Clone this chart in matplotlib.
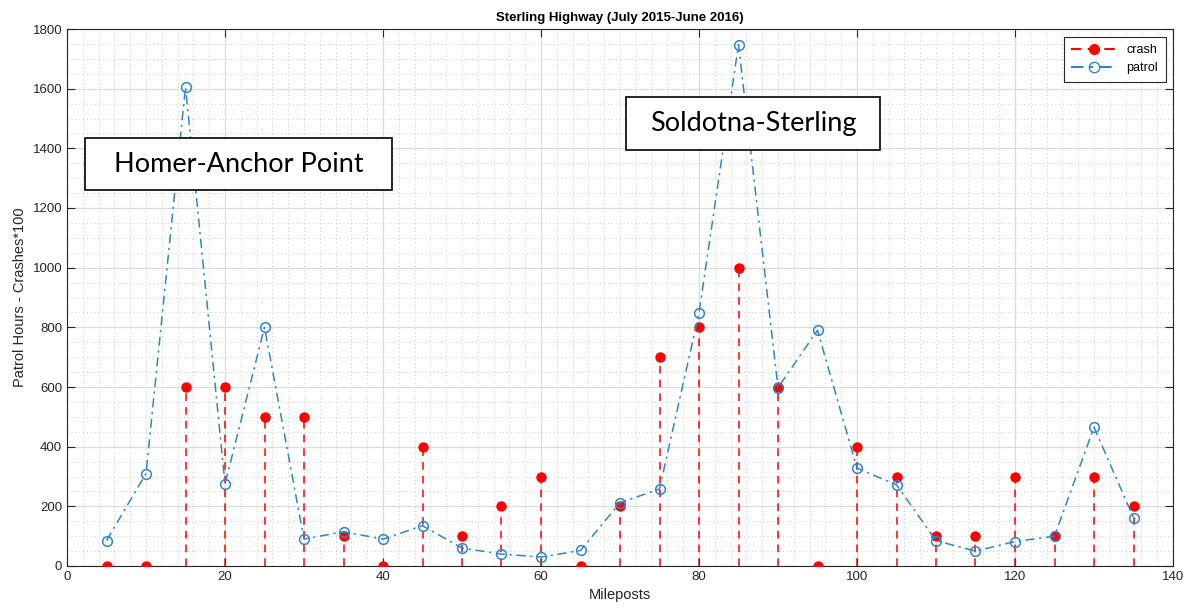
import numpy as np
import matplotlib
matplotlib.use('Agg')
import matplotlib.pyplot as plt
from matplotlib.patches import Rectangle
from matplotlib.ticker import MultipleLocator

# mileposts and values
mileposts = [5, 10, 15, 20, 25, 30, 35, 40, 45, 50, 55, 60, 65, 70,
             75, 80, 85, 90, 95, 100, 105, 110, 115, 120, 125, 130, 135]
crash = [0, 0, 600, 600, 500, 500, 100, 0, 400, 100, 200, 300, 0, 200,
         700, 800, 1000, 600, 0, 400, 300, 100, 100, 300, 100, 300, 200]
patrol = [85, 310, 1605, 275, 800, 90, 115, 90, 135, 60, 40, 30, 52, 212,
          258, 848, 1748, 598, 790, 328, 272, 85, 50, 82, 100, 465, 162]

plt.rcParams['font.family'] = ['Liberation Sans', 'DejaVu Sans']

fig = plt.figure(figsize=(11.87, 6.10), dpi=100)
ax = fig.add_axes([67/1187, 44/610, (1173-67)/1187, (566-29)/610])

red = '#ff0000'
blue = '#2f86cc'

ax.vlines(mileposts, 0, crash, colors=red, linestyles=(0, (5, 4)), linewidth=1.1, zorder=3)
ax.plot(mileposts, crash, 'o', color=red, markersize=6.5, zorder=4)
ax.plot(mileposts, patrol, linestyle=(0, (6, 3, 1.5, 3)), color=blue, linewidth=1.1,
        marker='o', markerfacecolor='none', markeredgecolor=blue, markersize=7,
        markeredgewidth=1.1, zorder=5)

# legend proxies
h1, = ax.plot([], [], linestyle=(0, (5, 3)), color=red, marker='o', markersize=7, label='crash')
h2, = ax.plot([], [], linestyle=(0, (6, 3, 1.5, 3)), color=blue, marker='o',
              markerfacecolor='none', markersize=7.5, label='patrol')
leg = ax.legend(handles=[h1, h2], loc='upper right', fontsize=9, fancybox=False,
                framealpha=1, edgecolor='#262626', borderaxespad=0.6, handlelength=3.6,
                borderpad=0.6, labelspacing=0.5)
leg.get_frame().set_linewidth(0.8)

ax.set_xlim(0, 140)
ax.set_ylim(0, 1800)
ax.xaxis.set_major_locator(MultipleLocator(20))
ax.xaxis.set_minor_locator(MultipleLocator(2))
ax.yaxis.set_major_locator(MultipleLocator(200))
ax.yaxis.set_minor_locator(MultipleLocator(50))
ax.grid(which='major', color='#dcdcdc', linewidth=0.9)
ax.grid(which='minor', color='#c8c8c8', linestyle=(0, (1, 3)), linewidth=0.7)
ax.set_axisbelow(True)
ax.tick_params(which='major', direction='in', top=True, right=True, length=6,
               color='#262626', labelsize=9.5, labelcolor='#262626')
ax.tick_params(which='minor', length=0)
for s in ax.spines.values():
    s.set_color('#262626')
    s.set_linewidth(0.8)

ax.set_title('Sterling Highway (July 2015-June 2016)', fontsize=9.5, fontweight='bold', pad=6)
ax.set_xlabel('Mileposts', fontsize=10.5, color='#262626', labelpad=4)
ax.set_ylabel('Patrol Hours - Crashes*100', fontsize=10.5, color='#262626', labelpad=4)

# pasted text boxes
def box(x0, y0, x1, y1, text):
    fig.add_artist(Rectangle((x0/1187, 1-y1/610), (x1-x0)/1187, (y1-y0)/610,
                             transform=fig.transFigure, facecolor='white',
                             edgecolor='black', linewidth=1.2, zorder=10))
    fig.text((x0+x1)/2/1187, 1-(y0+y1)/2/610, text, ha='center', va='center',
             fontsize=19.5, family=['Lato', 'DejaVu Sans'], zorder=11)

box(85, 138, 392, 190, 'Homer-Anchor Point')
box(626, 97, 880, 150, 'Soldotna-Sterling')

fig.savefig('out.png', dpi=100)
